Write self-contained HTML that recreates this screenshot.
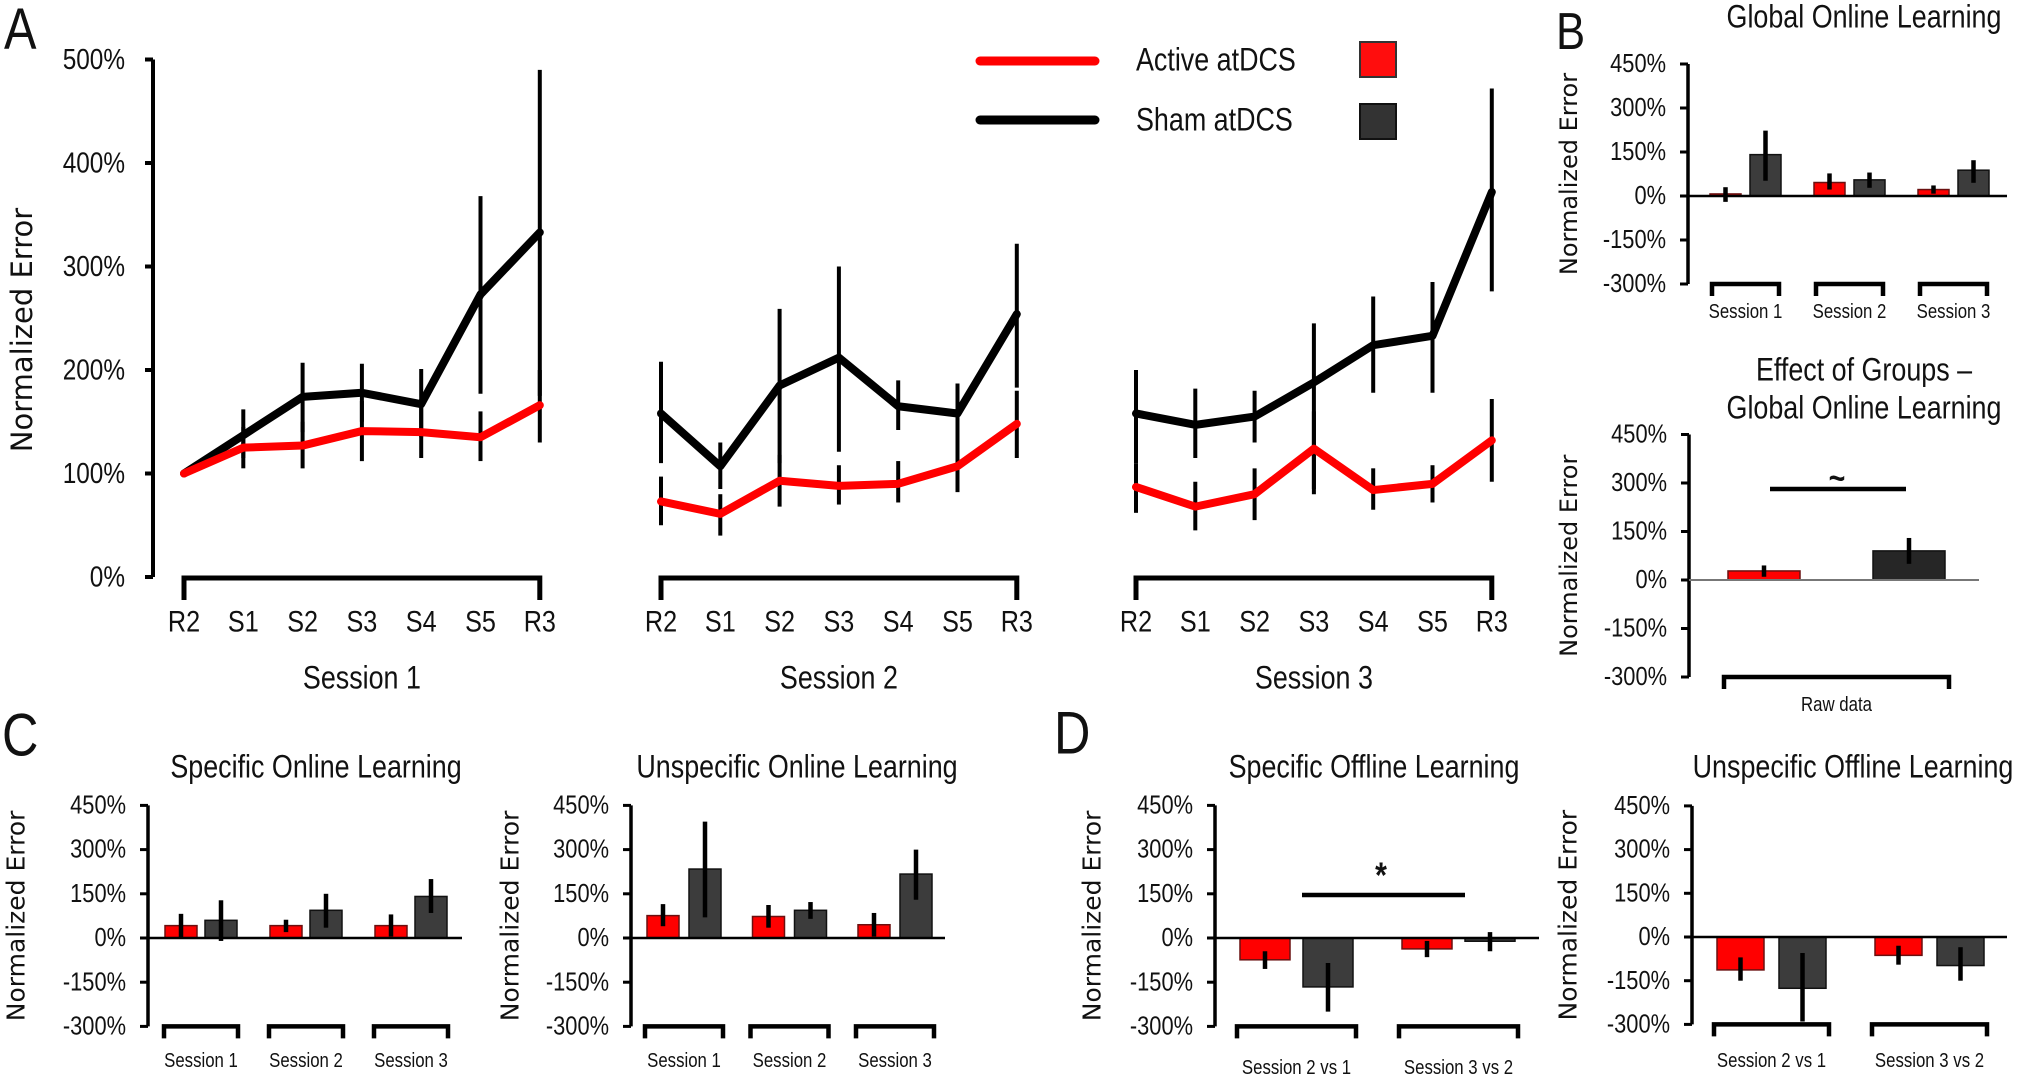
<!DOCTYPE html>
<html><head><meta charset="utf-8"><style>
html,body{margin:0;padding:0;background:#fff;}
svg{display:block;}
text{font-family:"Liberation Sans",sans-serif;fill:#111;}
.yl{font-family:"DejaVu Sans","Liberation Sans",sans-serif;}
</style></head><body>
<svg id="fig" width="2029" height="1076" viewBox="0 0 2029 1076" xmlns="http://www.w3.org/2000/svg"></svg>
<script>
// ---------- Panel A data ----------
const pointLabels = ["R2","S1","S2","S3","S4","S5","R3"];
const sessionNames = ["Session 1","Session 2","Session 3"];
const shamVals = [[100,137,174,178,167,273,333],[158,107,185,212,165,158,254],[158,147,155,188,224,233,372]];
const shamLo = [[100,115,140,150,135,177,175],[110,85,110,121,142,103,183],[110,115,130,85,178,178,276]];
const shamHi = [[100,162,207,206,201,368,490],[208,130,259,300,190,187,322],[200,182,180,245,271,285,472]];
const activeVals = [[100,125,127,141,140,135,166],[73,61,93,88,90,107,148],[87,68,80,124,84,90,132]];
const activeLo = [[100,105,105,112,115,112,130],[50,40,68,70,72,82,115],[62,45,55,80,65,72,92]];
const activeHi = [[100,145,150,170,165,160,200],[97,80,118,108,112,130,180],[110,92,105,160,105,108,172]];
const aTicks = [0,100,200,300,400,500];
// ---------- Bar chart data ----------
const barTicks = [450,300,150,0,-150,-300];
const bTopCats = ["Session 1","Session 2","Session 3"];
const bTopActive = [7,46,22], bTopActiveLo=[-20,22,8], bTopActiveHi=[30,77,36];
const bTopSham = [141,55,88], bTopShamLo=[52,28,45], bTopShamHi=[223,80,122];
const bBotCats = ["Raw data"];
const bBotActive=[28], bBotActiveLo=[10], bBotActiveHi=[45];
const bBotSham=[90], bBotShamLo=[50], bBotShamHi=[130];
const c1Cats=["Session 1","Session 2","Session 3"];
const c1Active=[42,42,42], c1ActiveLo=[0,20,5], c1ActiveHi=[82,62,80];
const c1Sham=[60,94,141], c1ShamLo=[-10,35,85], c1ShamHi=[128,150,200];
const c2Cats=["Session 1","Session 2","Session 3"];
const c2Active=[76,73,45], c2ActiveLo=[40,35,5], c2ActiveHi=[115,112,85];
const c2Sham=[234,94,217], c2ShamLo=[70,65,130], c2ShamHi=[395,122,300];
const d1Cats=["Session 2 vs 1","Session 3 vs 2"];
const d1Active=[-74,-37], d1ActiveLo=[-105,-65], d1ActiveHi=[-45,-10];
const d1Sham=[-166,-11], d1ShamLo=[-250,-45], d1ShamHi=[-85,20];
const d2Cats=["Session 2 vs 1","Session 3 vs 2"];
const d2Active=[-113,-63], d2ActiveLo=[-150,-95], d2ActiveHi=[-70,-30];
const d2Sham=[-176,-98], d2ShamLo=[-290,-150], d2ShamHi=[-55,-35];

const NS="http://www.w3.org/2000/svg";
const svg=document.getElementById('fig');
function el(tag,attrs,parent){const e=document.createElementNS(NS,tag);for(const k in attrs)e.setAttribute(k,attrs[k]);(parent||svg).appendChild(e);return e;}
function txt(s,x,y,size,anchor,parent,cls){
  let t;
  if(cls){
    t=el('text',{x:x,y:y,'font-size':size,'text-anchor':anchor||'middle','dominant-baseline':'central'},parent);
    t.setAttribute('class',cls);
  } else {
    t=el('text',{x:0,y:0,'font-size':size,'text-anchor':anchor||'middle','dominant-baseline':'central',transform:`translate(${x} ${y}) scale(0.84 1)`},parent);
  }
  t.textContent=s;return t;}

// ---------- Panel A ----------
const gA=el('g',{});


const aZero=577, aPer=1.035, aAxisX=153, sessStart=[184,661,1136], ptStep=59.3;
function ax(s,i){return sessStart[s]+i*ptStep;}
function ay(v){return aZero-v*aPer;}
let t=txt('A',4,30,58,'start',gA);


let yl=el('line',{x1:aAxisX,y1:ay(500),x2:aAxisX,y2:aZero,stroke:'#000','stroke-width':4},gA);


aTicks.forEach(v=>{
  el('line',{x1:aAxisX-8,y1:ay(v),x2:aAxisX,y2:ay(v),stroke:'#000','stroke-width':4},gA);
  const tl=txt(v+'%',125,ay(v),29,'end',gA);
  
  
});
t=txt('Normalized Error',22,330,29,'middle',gA,'yl');
t.setAttribute('transform','rotate(-90 22 330)');


for(let s=0;s<3;s++){
  const x0=ax(s,0), x1=ax(s,6);
  const br=el('path',{d:`M${x0} 600 V578 H${x1} V600`,fill:'none',stroke:'#000','stroke-width':5},gA);
  
  
  pointLabels.forEach((p,i)=>{const tl=txt(p,ax(s,i),621,30,'middle',gA);
    
    });
  const sl=txt(sessionNames[s],(x0+x1)/2,678,32,'middle',gA);
  
  
  for(let i=0;i<7;i++){
    if(shamHi[s][i]!==shamLo[s][i]){
      const eb=el('line',{x1:ax(s,i),y1:ay(shamLo[s][i]),x2:ax(s,i),y2:ay(shamHi[s][i]),stroke:'#000','stroke-width':4},gA);
      
      
    }
    if(activeHi[s][i]!==activeLo[s][i]){
      const eb=el('line',{x1:ax(s,i),y1:ay(activeLo[s][i]),x2:ax(s,i),y2:ay(activeHi[s][i]),stroke:'#000','stroke-width':4},gA);
      
      
    }
  }
  const ps=shamVals[s].map((v,i)=>ax(s,i)+','+ay(v)).join(' ');
  const pl=el('polyline',{points:ps,fill:'none',stroke:'#000','stroke-width':8,'stroke-linejoin':'round','stroke-linecap':'round'},gA);
  
  
  const pa=activeVals[s].map((v,i)=>ax(s,i)+','+ay(v)).join(' ');
  const pr=el('polyline',{points:pa,fill:'none',stroke:'#ff0000','stroke-width':8,'stroke-linejoin':'round','stroke-linecap':'round'},gA);
  
  
}
// legend
const lg=el('g',{});


let li=el('line',{x1:980,y1:61,x2:1095,y2:61,stroke:'#ff0000','stroke-width':9,'stroke-linecap':'round'},lg);


li=el('line',{x1:980,y1:120,x2:1095,y2:120,stroke:'#000','stroke-width':9,'stroke-linecap':'round'},lg);


t=txt('Active atDCS',1136,60,32,'start',lg);


t=txt('Sham atDCS',1136,120,32,'start',lg);


li=el('rect',{x:1360,y:42,width:36,height:35,fill:'#ff0d0d',stroke:'#333','stroke-width':2},lg);


li=el('rect',{x:1360,y:104,width:36,height:35,fill:'#333',stroke:'#111','stroke-width':2},lg);



// ---------- Bar charts ----------
function barChart(name,L,cats,aV,aLo,aHi,sV,sLo,sHi){
  const g=el('g',{});
  
  
  const y=v=>L.zero-v/150*L.per;
  const axl=el('line',{x1:L.axisX,y1:y(450),x2:L.axisX,y2:y(-300),stroke:'#000','stroke-width':3.5},g);
  
  
  barTicks.forEach(v=>{
    el('line',{x1:L.axisX-8,y1:y(v),x2:L.axisX,y2:y(v),stroke:'#000','stroke-width':3},g);
    const tl=txt(v+'%',L.axisX-22,y(v),L.fs,'end',g);
    
    
  });
  const yt=txt('Normalized Error',L.ylX,(y(450)+y(-300))/2,L.yfs,'middle',g,'yl');
  yt.setAttribute('transform',`rotate(-90 ${L.ylX} ${(y(450)+y(-300))/2})`);
  
  
  if(L.title){L.title.forEach((s,k)=>{const tt=txt(s,L.titleX,L.titleY+k*38,32,'middle',g);
    
    });}
  cats.forEach((c,i)=>{
    const xr=L.first+i*L.spacing, xs=xr+L.barW+L.gap;
    const r1=el('rect',{x:xr,y:Math.min(y(aV[i]),L.zero),width:L.barW,height:Math.abs(y(aV[i])-L.zero),fill:'#ff0000',stroke:'#6a1010','stroke-width':1.5},g);
    
    
    const r2=el('rect',{x:xs,y:Math.min(y(sV[i]),L.zero),width:L.barW,height:Math.abs(y(sV[i])-L.zero),fill:L.dark||'#3c3c3c',stroke:'#111','stroke-width':1.5},g);
    
    
    const e1=el('line',{x1:xr+L.barW/2,y1:y(aLo[i]),x2:xr+L.barW/2,y2:y(aHi[i]),stroke:'#000','stroke-width':4.5},g);
    
    
    const e2=el('line',{x1:xs+L.barW/2,y1:y(sLo[i]),x2:xs+L.barW/2,y2:y(sHi[i]),stroke:'#000','stroke-width':4.5},g);
    
    
    const b0=xr+L.brIn, b1=xs+L.barW-L.brIn;
    const br=el('path',{d:`M${b0} ${y(-300)+12} V${y(-300)} H${b1} V${y(-300)+12}`,fill:'none',stroke:'#000','stroke-width':4.5},g);
    
    
    const cl=txt(c,(b0+b1)/2,L.catY,L.cfs,'middle',g);
    
    
  });
  const zl=el('line',{x1:L.axisX,y1:L.zero,x2:L.zeroEnd,y2:L.zero,stroke:L.zeroColor||'#000','stroke-width':L.zeroW||2.5},g);
  
  
  return g;
}
t=txt('B',1556,32,52,'start');


t=txt('C',2,735,60,'start');


t=txt('D',1054,733,60,'start');



barChart('panel-b-global-online',{axisX:1688,zero:196,per:44,first:1710,spacing:104,barW:31,gap:9,brIn:2,zeroEnd:2007,fs:26,yfs:24,ylX:1569,title:['Global Online Learning'],titleX:1864,titleY:17,catY:311,cfs:20},bTopCats,bTopActive,bTopActiveLo,bTopActiveHi,bTopSham,bTopShamLo,bTopShamHi);
const gb=barChart('panel-b-effect-of-groups',{axisX:1689,zero:580,per:48.5,first:1728,spacing:145,barW:72,gap:73,brIn:-4,zeroEnd:1979,zeroColor:'#777',zeroW:2,fs:26,yfs:24,ylX:1569,title:['Effect of Groups –','Global Online Learning'],titleX:1864,titleY:370,catY:704,cfs:20,dark:'#262626'},bBotCats,bBotActive,bBotActiveLo,bBotActiveHi,bBotSham,bBotShamLo,bBotShamHi);
let sg=el('line',{x1:1770,y1:489,x2:1906,y2:489,stroke:'#000','stroke-width':4.5},gb);


t=txt('~',1837,478,34,'middle',gb);t.setAttribute('font-weight','bold');



barChart('panel-c-specific-online',{axisX:148,zero:938,per:44.2,first:165,spacing:105,barW:32,gap:8,brIn:-1,zeroEnd:462,fs:26,yfs:25,ylX:16,title:['Specific Online Learning'],titleX:316,titleY:767,catY:1060,cfs:20},c1Cats,c1Active,c1ActiveLo,c1ActiveHi,c1Sham,c1ShamLo,c1ShamHi);
barChart('panel-c-unspecific-online',{axisX:631,zero:938,per:44.2,first:647,spacing:105.5,barW:32,gap:10,brIn:-2,zeroEnd:945,fs:26,yfs:25,ylX:510,title:['Unspecific Online Learning'],titleX:797,titleY:767,catY:1060,cfs:20},c2Cats,c2Active,c2ActiveLo,c2ActiveHi,c2Sham,c2ShamLo,c2ShamHi);
const gd=barChart('panel-d-specific-offline',{axisX:1215,zero:938,per:44.2,first:1240,spacing:162,barW:50,gap:13,brIn:-3,zeroEnd:1539,fs:26,yfs:25,ylX:1092,title:['Specific Offline Learning'],titleX:1374,titleY:767,catY:1067,cfs:20},d1Cats,d1Active,d1ActiveLo,d1ActiveHi,d1Sham,d1ShamLo,d1ShamHi);
sg=el('line',{x1:1302,y1:895,x2:1465,y2:895,stroke:'#000','stroke-width':4.5},gd);


t=txt('*',1381,876,36,'middle',gd);t.setAttribute('font-weight','bold');


barChart('panel-d-unspecific-offline',{axisX:1692,zero:937,per:43.7,first:1717,spacing:158,barW:47,gap:15,brIn:-3,zeroEnd:2007,fs:26,yfs:25,ylX:1568,title:['Unspecific Offline Learning'],titleX:1853,titleY:767,catY:1060,cfs:20},d2Cats,d2Active,d2ActiveLo,d2ActiveHi,d2Sham,d2ShamLo,d2ShamHi);
</script>
</body></html>
